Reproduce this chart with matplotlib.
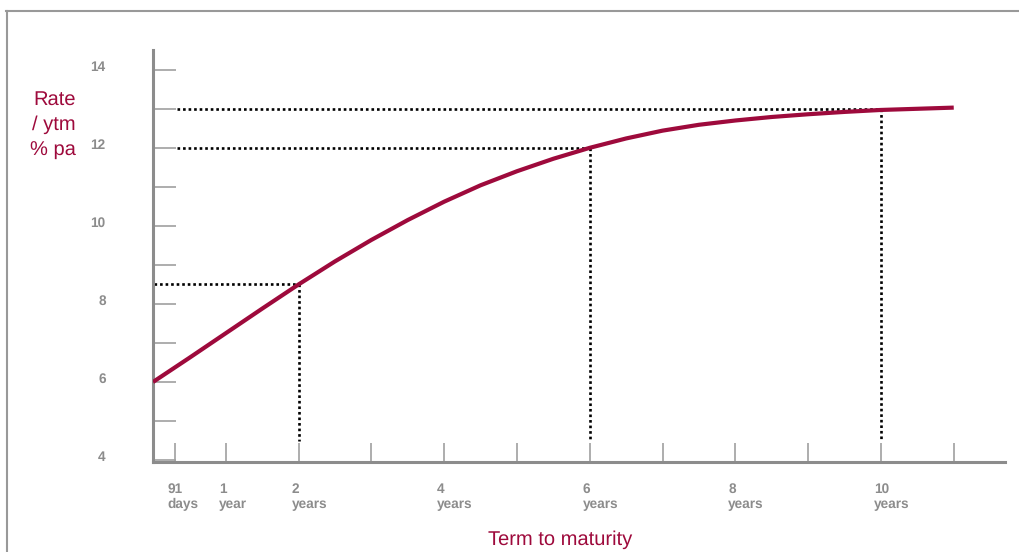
import matplotlib
matplotlib.use("Agg")
import matplotlib.pyplot as plt
import matplotlib.transforms as mtransforms
from matplotlib.lines import Line2D

# yield curve (term in years, rate % pa)
term = [0, 0.5, 1, 1.5, 2, 2.5, 3, 3.5, 4, 4.5, 5, 5.5,
        6, 6.5, 7, 7.5, 8, 8.5, 9, 9.5, 10, 10.5, 11]
rate = [6.0, 6.62, 7.25, 7.88, 8.5, 9.09, 9.64, 10.15, 10.62, 11.04, 11.4, 11.72,
        12.0, 12.24, 12.44, 12.59, 12.7, 12.79, 12.86, 12.92, 12.97, 13.0, 13.03]

# points picked out with dotted guides
guide_term = [2, 6, 10]
guide_rate = [8.5, 12, 13]

x_ticks = [0.3, 1, 2, 3, 4, 5, 6, 7, 8, 9, 10, 11]
x_labels = ["91\ndays", "1\nyear", "2\nyears", "", "4\nyears", "", "6\nyears",
            "", "8\nyears", "", "10\nyears", ""]
y_ticks = [4, 5, 6, 7, 8, 9, 10, 11, 12, 13, 14]
y_labels = ["4", "", "6", "", "8", "", "10", "", "12", "", "14"]

red = "#9e0a3c"
grey = "#8c8c8c"
plt.rcParams["font.family"] = ["Liberation Sans", "DejaVu Sans"]
plt.rcParams["text.hinting"] = "no_hinting"

fig = plt.figure(figsize=(10.2, 5.52), dpi=100)
ax = fig.add_axes([0.15, 0.163, 0.835, 0.746])

ax.plot(term, rate, color=red, lw=3, solid_capstyle="butt", solid_joinstyle="round", zorder=3)

# dotted guide lines
for t, r in zip(guide_term, guide_rate):
    x0 = 0.02 if r < 10 else 0.33
    ax.plot([x0, t], [r, r], color="black", lw=1.9, ls=(0, (1, 1.1)), zorder=2)
    ax.plot([t, t], [r, 4.5], color="black", lw=1.9, ls=(0, (1, 1.1)), zorder=2)

ax.set_xlim(0, 11.7)
ax.set_ylim(3.95, 14.5)

for s in ["top", "right"]:
    ax.spines[s].set_visible(False)
for s in ["left", "bottom"]:
    ax.spines[s].set_color(grey)
    ax.spines[s].set_linewidth(2.2)

ax.set_yticks(y_ticks)
ax.set_yticklabels(y_labels, fontweight="bold")
ax.tick_params(axis="y", direction="in", length=16.5, width=1.2, color="#a0a0a0",
               pad=34, labelsize=9.8, labelcolor=grey)
ax.set_xticks(x_ticks)
ax.set_xticklabels(x_labels, fontweight="bold", ha="left", multialignment="left")
ax.tick_params(axis="x", direction="in", length=14, width=1.2, color="#a0a0a0",
               pad=15, labelsize=9.8, labelcolor=grey)

for lab in ax.get_yticklabels():
    lab.set_transform(lab.get_transform() +
                      mtransforms.ScaledTranslation(0, 4 / 100, fig.dpi_scale_trans))
for lab in ax.get_xticklabels():
    lab.set_transform(lab.get_transform() +
                      mtransforms.ScaledTranslation(-7 / 100, 0, fig.dpi_scale_trans))

fig.text(76 / 1020, 1 - 90 / 552, "Rate\n/ ytm\n% pa", color=red, fontsize=14.5,
         ha="right", va="top", multialignment="right", linespacing=1.48)
fig.text(560 / 1020, 1 - 545 / 552, "Term to maturity", color=red, fontsize=14.5,
         ha="center", va="baseline")

# frame lines at top and left of the slide
fig.add_artist(Line2D([6 / 1020, 1], [1 - 11 / 552, 1 - 11 / 552], color="#999999", lw=1.5))
fig.add_artist(Line2D([7 / 1020, 7 / 1020], [0, 1 - 11 / 552], color="#999999", lw=1.5))

fig.savefig("out.png", dpi=100)
